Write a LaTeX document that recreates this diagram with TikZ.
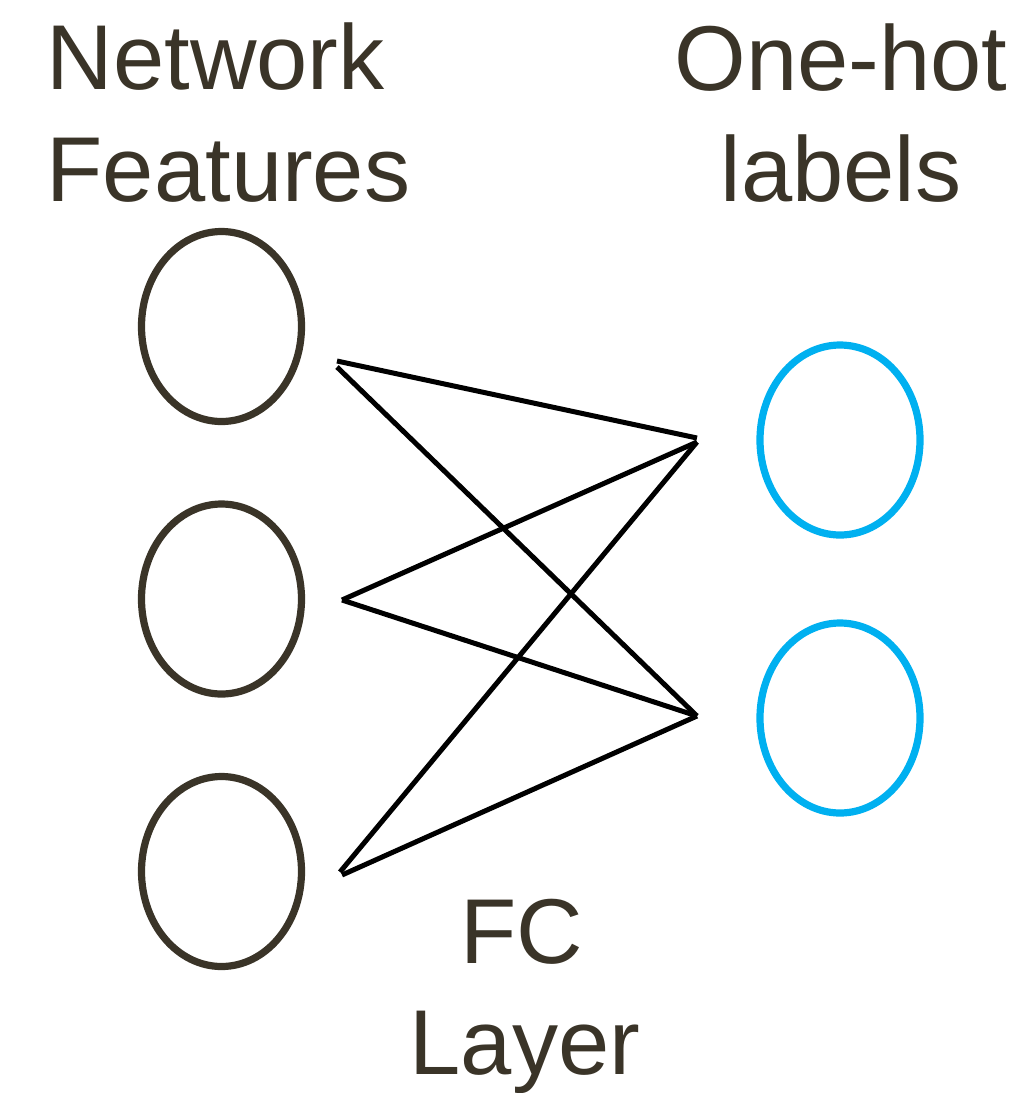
\documentclass[tikz,border=0pt]{standalone}
\usepackage{fontspec}
\setmainfont{Liberation Sans}
\definecolor{ink}{HTML}{3A3428}
\definecolor{sky}{HTML}{00B0F0}
\begin{document}
\begin{tikzpicture}[x=0.01cm,y=-0.01cm,
  lbl/.style={inner sep=0pt,text=ink,font=\fontsize{26.2pt}{31.9pt}\selectfont},
  featring/.style={draw=ink,line width=0.072cm},
  labring/.style={draw=sky,line width=0.072cm},
  wire/.style={draw=black,line width=0.05cm}]
\useasboundingbox (0,0) rectangle (1030,1093);
% text
\node[lbl,anchor=base west] (t1) at (46,89) {Network};
\node[lbl,anchor=base west] (t2) at (46,201) {Features};
\node[lbl,anchor=base] (t3) at (841,90) {One-hot};
\node[lbl,anchor=base] (t4) at (841,201) {labels};
\node[lbl,anchor=base] (t5) at (522,963) {FC};
\node[lbl,anchor=base] (t6) at (525,1074) {Layer};
% ellipses
\draw[featring] (221.5,326.5) ellipse [x radius=80,y radius=95];
\draw[featring] (221.5,599) ellipse [x radius=80,y radius=95];
\draw[featring] (221.5,871.5) ellipse [x radius=80,y radius=95];
\draw[labring] (840,440) ellipse [x radius=80,y radius=95];
\draw[labring] (840,718) ellipse [x radius=80,y radius=95];
% connector end points
\coordinate (a1) at (337,361);
\coordinate (a2) at (337,367);
\coordinate (b1) at (342,600);
\coordinate (c1) at (340,872);
\coordinate (c2) at (342,875);
\coordinate (r1) at (697,438);
\coordinate (r1b) at (697,442);
\coordinate (r2) at (697,716);
% connectors
\draw[wire] (a1) -- (r1);
\draw[wire] (a2) -- (r2);
\draw[wire] (b1) -- (r1b);
\draw[wire] (b1) -- (r2);
\draw[wire] (c1) -- (r1b);
\draw[wire] (c2) -- (r2);
\end{tikzpicture}
\end{document}
